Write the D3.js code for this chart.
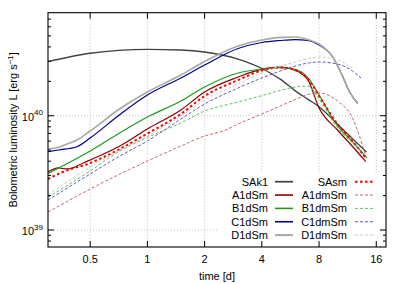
<!DOCTYPE html>
<html><head><meta charset="utf-8">
<script src="https://cdn.jsdelivr.net/npm/d3@7"></script>
<style>body{margin:0;background:#fff}svg{display:block}text{font-family:"Liberation Sans",Arial,sans-serif;fill:#000}</style>
</head><body>
<svg id="c" width="407" height="284"></svg>
<script>
// ---- data (time in days, luminosity in erg/s) ----
const SAk1_t   = [0.3,0.5,1,1.5,2,3,4,5,6,7,8,10,12,14.2];
const SAk1_L   = [2.97,3.52,3.81,3.76,3.61,3.13,2.59,2.09,1.65,1.39,1.20,0.843,0.629,0.481].map(v=>v*1e40);
const A1dSm_t  = [0.3,0.34,0.379,0.46,0.5,0.7,1,1.5,2,3,4,5,6,6.5,7,8,10,12,14.1];
const A1dSm_L  = [0.322,0.349,0.342,0.386,0.410,0.532,0.765,1.122,1.612,2.18,2.56,2.67,2.49,2.32,2.05,1.168,0.750,0.538,0.396].map(v=>v*1e40);
const B1dSm_t  = [0.3,0.5,0.7,1,1.5,2,3,4,5,6,7,8,10,12,14.3];
const B1dSm_L  = [0.312,0.491,0.692,0.974,1.345,1.783,2.364,2.56,2.64,2.54,2.14,1.517,0.819,0.591,0.4265].map(v=>v*1e40);
const C1dSm_t  = [0.3,0.34,0.426,0.5,0.7,1,1.5,2,3,4,5,6,7,8,9.42,10.66,11.56,12.78];
const C1dSm_L  = [0.484,0.501,0.5355,0.638,0.994,1.517,2.14,2.777,3.872,4.37,4.55,4.64,4.55,4.155,3.28,2.194,1.622,1.284].map(v=>v*1e40);
const D1dSm_t  = [0.3,0.34,0.378,0.426,0.5,0.7,1,1.5,2,3,4,5,6,7,8,9.42,10.66,11.56,12.78];
const D1dSm_L  = [0.511,0.529,0.5654,0.6129,0.7348,1.122,1.612,2.27,2.98,4.07,4.596,4.852,4.88,4.64,4.24,3.28,2.194,1.622,1.284].map(v=>v*1e40);
const SAsm_t   = [0.3,0.361,0.5,0.7,1,1.5,2,3,4,5,6,7,8,10,12,14.2];
const SAsm_L   = [0.2793,0.3236,0.3857,0.501,0.699,1.035,1.487,2.05,2.49,2.64,2.51,2.095,1.487,0.846,0.6006,0.418].map(v=>v*1e40);
const A1dmSm_t = [0.3,0.5,0.7,1,1.5,2,2.5,3,4,5,6,7,8,10,12,13,14.1];
const A1dmSm_L = [0.1437,0.2284,0.3028,0.4016,0.543,0.6644,0.7348,0.846,1.035,1.216,1.386,1.533,1.58,1.345,0.9547,0.678,0.4378].map(v=>v*1e40);
const B1dmSm_t = [0.3,0.5,0.7,1,1.5,2,3,4,5,6,7,8,10,12,13.3];
const B1dmSm_L = [0.1944,0.3283,0.481,0.6446,0.863,1.099,1.318,1.499,1.665,1.783,1.819,1.40,0.780,0.577,0.484].map(v=>v*1e40);
const C1dmSm_t = [0.3,0.5,0.7,1,1.5,2,3,4,5,6,7,8,10,12,13.3];
const C1dmSm_L = [0.183,0.309,0.435,0.6006,0.936,1.266,1.747,2.14,2.46,2.72,2.891,2.95,2.834,2.46,2.14].map(v=>v*1e40);
const D1dmSm_t = [0.3,0.5,0.7,1,1.5,2,3,4,5,6,7,8,10,12];
const D1dmSm_L = [0.2025,0.3557,0.491,0.6644,0.994,1.372,1.894,2.364,2.72,2.95,3.166,3.263,3.071,2.615].map(v=>v*1e40);

const xTicks = [0.5,1,2,4,8,16];
const yMajor = [39,40]; // exponents
const names = ["SAk1","A1dSm","B1dSm","C1dSm","D1dSm","SAsm","A1dmSm","B1dmSm","C1dmSm","D1dmSm"];

const series = [
  {name:"SAk1",  t:SAk1_t,  L:SAk1_L,  color:"#404040", w:1.3, dash:null},
  {name:"A1dSm", t:A1dSm_t, L:A1dSm_L, color:"#8b0000", w:1.2, dash:null},
  {name:"B1dSm", t:B1dSm_t, L:B1dSm_L, color:"#1a9a1a", w:1.2, dash:null},
  {name:"C1dSm", t:C1dSm_t, L:C1dSm_L, color:"#00008b", w:1.2, dash:null},
  {name:"D1dSm", t:D1dSm_t, L:D1dSm_L, color:"#a8a8a8", w:1.6, dash:null},
  {name:"SAsm",  t:SAsm_t,  L:SAsm_L,  color:"#ff0000", w:2.0, dash:"2.5,2.5"},
  {name:"A1dmSm",t:A1dmSm_t,L:A1dmSm_L,color:"#bb6a6a", w:1.0, dash:"3,2"},
  {name:"B1dmSm",t:B1dmSm_t,L:B1dmSm_L,color:"#5cc05c", w:1.0, dash:"3,2"},
  {name:"C1dmSm",t:C1dmSm_t,L:C1dmSm_L,color:"#5a5ac0", w:1.0, dash:"3,2"},
  {name:"D1dmSm",t:D1dmSm_t,L:D1dmSm_L,color:"#cccccc", w:1.0, dash:"3,2"}
];

const svg = d3.select("#c");
const L=48, R=386, T=12.7, B=247;
const x = d3.scaleLog().base(2).domain([0.3,18]).range([L,R]);
const y = d3.scaleLog().domain([7.1e38,7.97e40]).range([B,T]);

// grid
const grid = svg.append("g").attr("stroke","#b0b0b0").attr("stroke-width",0.8).attr("stroke-dasharray","1,2");
xTicks.forEach(v=>grid.append("line").attr("x1",x(v)).attr("x2",x(v)).attr("y1",T).attr("y2",B));
yMajor.forEach(e=>grid.append("line").attr("x1",L).attr("x2",R).attr("y1",y(Math.pow(10,e))).attr("y2",y(Math.pow(10,e))));

// curves
svg.append("clipPath").attr("id","clp").append("rect").attr("x",L).attr("y",T).attr("width",R-L).attr("height",B-T);
const line = d3.line().x(d=>x(d[0])).y(d=>y(d[1])).curve(d3.curveMonotoneX);
const cg = svg.append("g").attr("clip-path","url(#clp)");
series.forEach(s=>{
  const pts = s.t.map((t,i)=>[t,s.L[i]]);
  cg.append("path").attr("d",line(pts)).attr("fill","none").attr("stroke",s.color)
    .attr("stroke-width",s.w).attr("stroke-dasharray",s.dash);
});

// legend (opaque)
svg.append("rect").attr("x",218).attr("y",173).attr("width",162).attr("height",70).attr("fill","#fff");
const lg = svg.append("g").attr("font-size","11px");
series.forEach((s,i)=>{
  const col = i<5?0:1, row=i%5;
  const tx = col===0?268:347, lx=col===0?275:355;
  const cy = 181.7 + row*13.35;
  lg.append("text").attr("x",tx).attr("y",cy+4).attr("text-anchor","end").text(s.name);
  lg.append("line").attr("x1",lx).attr("x2",lx+18).attr("y1",cy).attr("y2",cy)
    .attr("stroke",s.color).attr("stroke-width",s.dash? (s.name==="SAsm"?2:1):(s.w+0.4)).attr("stroke-dasharray",s.dash);
});

// axes frame and ticks
const ax = svg.append("g").attr("stroke","#000").attr("stroke-width",1);
xTicks.forEach(v=>{
  ax.append("line").attr("x1",x(v)).attr("x2",x(v)).attr("y1",B).attr("y2",B-6);
  ax.append("line").attr("x1",x(v)).attr("x2",x(v)).attr("y1",T).attr("y2",T+6);
});
for(let e=38;e<=40;e++){
  for(let m=1;m<=9;m++){
    const v=m*Math.pow(10,e);
    if(v<7.1e38||v>7.97e40) continue;
    const len = m===1?6:3;
    ax.append("line").attr("x1",L).attr("x2",L+len).attr("y1",y(v)).attr("y2",y(v));
    ax.append("line").attr("x1",R).attr("x2",R-len).attr("y1",y(v)).attr("y2",y(v));
  }
}
svg.append("rect").attr("x",L).attr("y",T).attr("width",R-L).attr("height",B-T)
  .attr("fill","none").attr("stroke","#000").attr("stroke-width",1.1);

// tick labels
const tl = svg.append("g").attr("font-size","11px");
xTicks.forEach(v=>tl.append("text").attr("x",x(v)).attr("y",B+16).attr("text-anchor","middle").text(v));
yMajor.forEach(e=>{
  const t = tl.append("text").attr("x",L-5).attr("y",y(Math.pow(10,e))+5).attr("text-anchor","end");
  t.append("tspan").text("10");
  t.append("tspan").attr("font-size","8px").attr("dy",-5.5).text(e);
});

// axis titles
svg.append("text").attr("x",(L+R)/2).attr("y",280).attr("text-anchor","middle").attr("font-size","11px").text("time [d]");
const yt = svg.append("text").attr("transform",`translate(16.5,${(T+B)/2}) rotate(-90)`).attr("text-anchor","middle").attr("font-size","11px");
yt.append("tspan").text("Bolometric luminosity L [erg s");
yt.append("tspan").attr("font-size","8px").attr("dy",-4).text("−1");
yt.append("tspan").attr("dy",4).text("]");
</script>
</body></html>
